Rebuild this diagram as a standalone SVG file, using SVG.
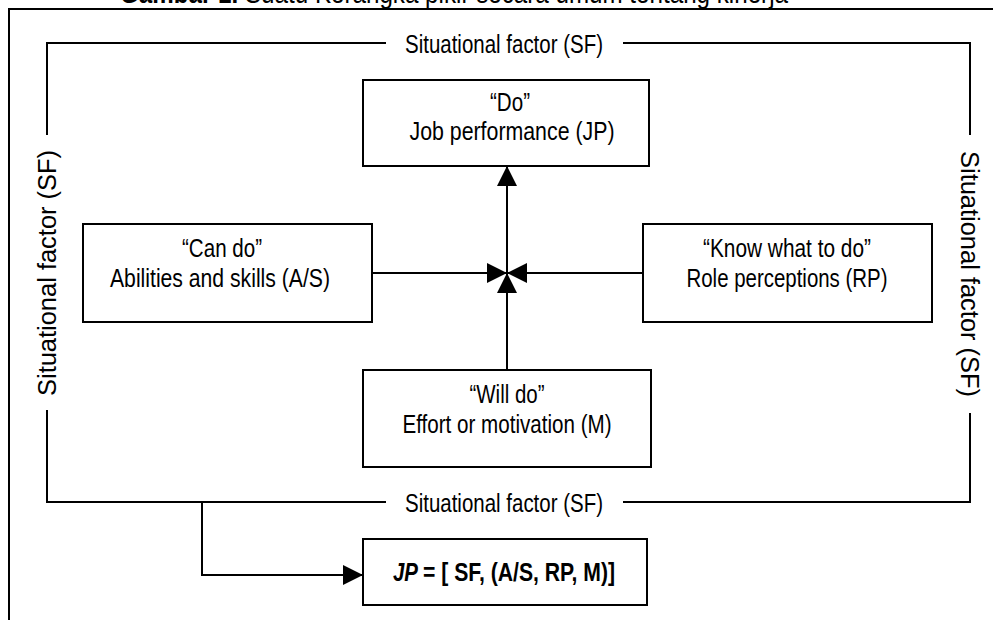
<svg xmlns="http://www.w3.org/2000/svg" width="993" height="620" viewBox="0 0 993 620">
<style>
.ln{fill:none;stroke:#000;stroke-width:2}
.box{fill:#fff;stroke:#000;stroke-width:2}
.t{font-family:"Liberation Sans Narrow","Liberation Sans",Arial,sans-serif;font-size:26px;fill:#000;text-anchor:middle}
.tv{font-family:"Liberation Sans",Arial,sans-serif;font-size:25px;fill:#000;text-anchor:middle}
.f{font-family:"Liberation Sans Narrow","Liberation Sans",Arial,sans-serif;font-size:26px;font-weight:bold;fill:#000}
.ttl{font-family:"Liberation Sans Narrow","Liberation Sans",Arial,sans-serif;font-size:29.5px;fill:#000}
</style>
<defs>
<marker id="ah" markerUnits="userSpaceOnUse" markerWidth="20" markerHeight="20" viewBox="0 0 20 20" refX="20" refY="10" orient="auto">
<path d="M0,0 L20,10 L0,20 z" fill="#000"/>
</marker>
</defs>
<rect width="993" height="620" fill="#fff"/>
<g id="title">
<text class="ttl" x="120" y="3" textLength="668" lengthAdjust="spacingAndGlyphs"><tspan font-weight="bold">Gambar 1.</tspan> Suatu Kerangka pikir secara umum tentang kinerja</text>
</g>
<g id="frame">
<path class="ln" d="M9,620 V9 H993"/>
</g>
<g id="situational-factor">
<path class="ln" d="M47,135 V43 H386 M623,43 H970 V135 M47,410 V502 H386 M623,502 H970 V413"/>
<text class="t" x="504" y="53" textLength="198" lengthAdjust="spacingAndGlyphs">Situational factor (SF)</text>
<text class="t" x="504" y="512" textLength="198" lengthAdjust="spacingAndGlyphs">Situational factor (SF)</text>
<text class="tv" transform="translate(56,273) rotate(-90)" x="0" y="0" textLength="246" lengthAdjust="spacingAndGlyphs">Situational factor (SF)</text>
<text class="tv" transform="translate(961,274) rotate(90)" x="0" y="0" textLength="246" lengthAdjust="spacingAndGlyphs">Situational factor (SF)</text>
</g>
<g id="connectors">
<path class="ln" d="M371,273 H507" marker-end="url(#ah)"/>
<path class="ln" d="M643,273 H507" marker-end="url(#ah)"/>
<path class="ln" d="M507,370 V273" marker-end="url(#ah)"/>
<path class="ln" d="M507,273 V166" marker-end="url(#ah)"/>
<path class="ln" d="M202,502 V575 H363" marker-end="url(#ah)"/>
</g>
<g id="node-jp">
<rect class="box" x="363" y="80" width="286" height="86"/>
<text class="t" x="510" y="111" textLength="40" lengthAdjust="spacingAndGlyphs">“Do”</text>
<text class="t" x="512" y="140" textLength="205" lengthAdjust="spacingAndGlyphs">Job performance (JP)</text>
</g>
<g id="node-as">
<rect class="box" x="83" y="224" width="289" height="98"/>
<text class="t" x="222" y="257" textLength="80" lengthAdjust="spacingAndGlyphs">“Can do”</text>
<text class="t" x="220" y="287" textLength="220" lengthAdjust="spacingAndGlyphs">Abilities and skills (A/S)</text>
</g>
<g id="node-rp">
<rect class="box" x="643" y="224" width="289" height="98"/>
<text class="t" x="787" y="257" textLength="168" lengthAdjust="spacingAndGlyphs">“Know what to do”</text>
<text class="t" x="787" y="287" textLength="201" lengthAdjust="spacingAndGlyphs">Role perceptions (RP)</text>
</g>
<g id="node-m">
<rect class="box" x="363" y="370" width="288" height="97"/>
<text class="t" x="507" y="403" textLength="75" lengthAdjust="spacingAndGlyphs">“Will do”</text>
<text class="t" x="507" y="433" textLength="209" lengthAdjust="spacingAndGlyphs">Effort or motivation (M)</text>
</g>
<g id="node-formula">
<rect class="box" x="363" y="539" width="284" height="66"/>
<text class="f" x="393" y="581" font-style="italic" textLength="25" lengthAdjust="spacingAndGlyphs">JP</text>
<text class="f" x="423" y="581" textLength="192" lengthAdjust="spacingAndGlyphs">= [ SF, (A/S, RP, M)]</text>
</g>
</svg>
